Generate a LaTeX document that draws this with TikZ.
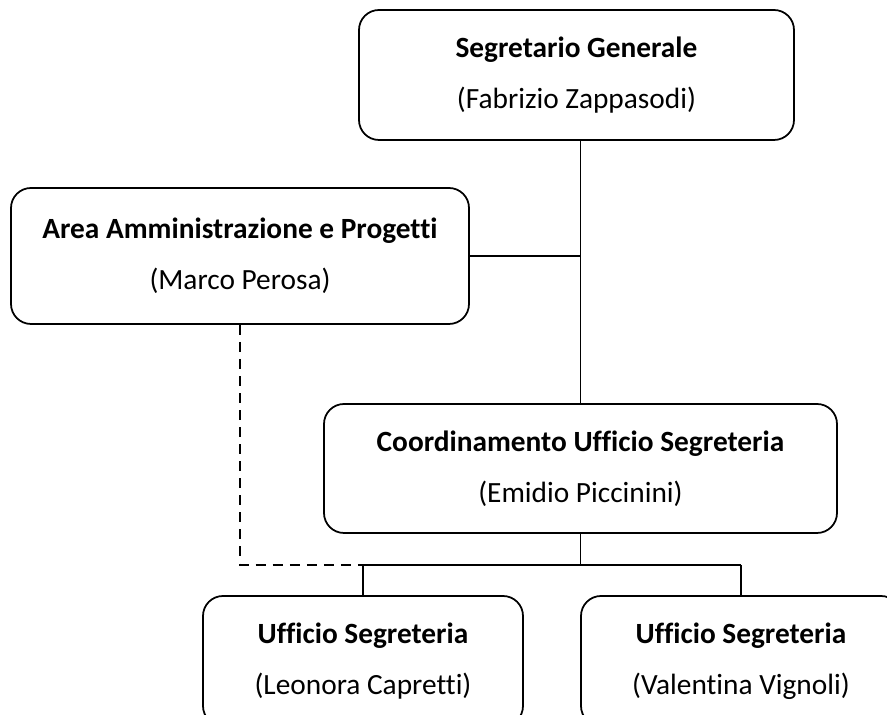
\documentclass[tikz,border=0pt]{standalone}
\usepackage{fontspec}
\setmainfont{Carlito}[Ligatures=NoCommon]
\usetikzlibrary{calc}
\newcommand{\ruolo}[2]{\textbf{#1}\\(#2)}
\tikzset{casella/.style={draw, line width=1pt, rounded corners=0.4cm, align=center,
        font=\fontsize{16.7}{29}\selectfont, inner sep=0pt}}

\begin{document}
\begin{tikzpicture}
                    \useasboundingbox (0,0) rectangle (17.74,14.3);
                    \begin{scope}
                    \clip (0,0) rectangle (17.74,14.3);
                    \node[casella, minimum width=8.7cm, minimum height=2.6cm] (sg) at (11.53,12.8) {\ruolo{Segretario Generale}{Fabrizio Zappasodi}};
                    \node[casella, minimum width=9.16cm, minimum height=2.72cm] (am) at (4.8,9.18) {\ruolo{Area Amministrazione e Progetti}{Marco Perosa}};
                    \node[casella, minimum width=10.26cm, minimum height=2.58cm] (cu) at (11.61,4.93) {\ruolo{Coordinamento Ufficio Segreteria}{Emidio Piccinini}};
                    \node[casella, minimum width=6.4cm, minimum height=2.6cm] (us1) at (7.26,1.08) {\ruolo{Ufficio Segreteria}{Leonora Capretti}};
                    \node[casella, minimum width=6.4cm, minimum height=2.6cm] (us2) at (14.82,1.08) {\ruolo{Ufficio Segreteria}{Valentina Vignoli}};
                    \end{scope}

                    \coordinate (split) at ($(cu.south)+(0,-0.62)$);

                    \draw[line width=1pt] (sg.south -| cu.north) -- (cu.north);
                    \draw[line width=1pt] (am.east) -- (am.east -| cu.north);
                    \draw[line width=1pt] (cu.south) -- (split);
                    \draw[line width=1pt] (split -| us1.north) -- (split -| us2.north);
                    \draw[line width=1pt] (split -| us1.north) -- (us1.north);
                    \draw[line width=1pt] (split -| us2.north) -- (us2.north);
                    \draw[line width=1pt, dash pattern=on 5.7pt off 4pt] (am.south) |- (split -| us1.north);
                \end{tikzpicture}
\end{document}
